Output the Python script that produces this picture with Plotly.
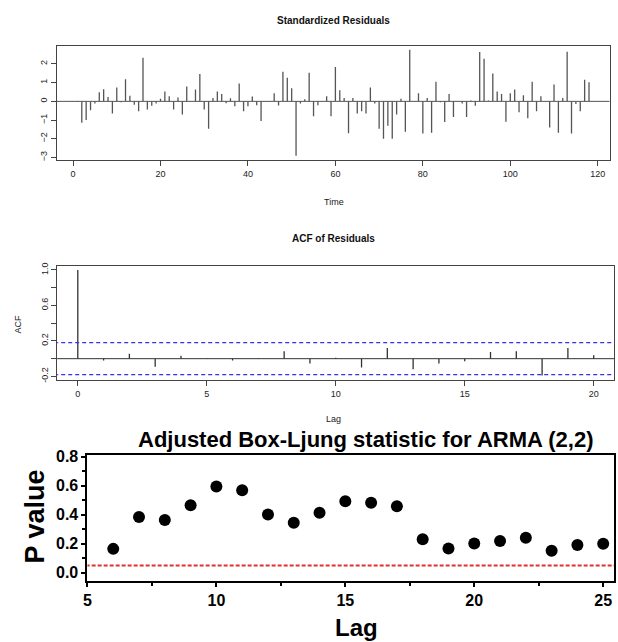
import plotly.graph_objects as go

W, H = 618, 642

# ---------------- data ----------------
resid_time = list(range(1, 119))
resid_vals = [
    -0.03, -1.14, -1.00, -0.47, -0.12, 0.49, 0.65, 0.23, -0.65, 0.74,
    -0.05, 1.18, 0.30, -0.18, -0.53, 2.33, -0.44, -0.23, -0.12, 0.14,
    0.53, 0.28, -0.44, 0.21, -0.70, 0.79, 0.02, 0.63, 1.46, -0.44,
    -1.46, 0.18, 0.53, 0.39, -0.10, 0.17, -0.26, 0.95, -0.53, -0.26,
    0.26, -0.21, -1.05, 0.02, -0.02, 0.44, -0.22, 1.58, 1.26, 0.70,
    -2.90, -0.11, 0.12, 1.53, -0.79, -0.21, 0.02, 0.28, -0.79, 1.84,
    0.60, 0.18, -1.70, 0.18, -0.65, -0.53, -0.65, 0.74, -0.12, -1.46,
    -2.00, -1.30, -2.00, -0.70, 0.14, -1.62, 2.75, 0.02, 0.44, -1.72,
    0.18, -1.67, 1.05, -0.05, -1.10, 0.39, -0.84, 0.02, -0.12, -0.84,
    0.05, -0.23, 2.63, 2.28, 0.05, 1.49, 0.53, 0.39, -1.09, 0.44,
    0.63, -0.58, 0.33, -0.90, 1.05, -0.53, 0.28, 0.02, -1.40, 0.90,
    -1.67, 0.18, 2.65, -1.72, -0.14, -0.53, 1.16, 1.02,
]

acf_lags = list(range(0, 21))
acf_vals = [1.0, -0.02, 0.055, -0.09, 0.033, 0.005, -0.02, 0.004, 0.085, -0.055,
            0.01, -0.10, 0.12, -0.12, -0.055, -0.03, 0.075, 0.085, -0.19, 0.12, 0.04]
acf_ci = 0.18

lb_lags = list(range(6, 26))
lb_pvals = [0.165, 0.384, 0.364, 0.466, 0.595, 0.568, 0.402, 0.345, 0.414, 0.493,
            0.482, 0.459, 0.232, 0.168, 0.202, 0.220, 0.241, 0.152, 0.191, 0.200]
lb_alpha = 0.05

resid_xticks = [0, 20, 40, 60, 80, 100, 120]
resid_yticks = [-3, -2, -1, 0, 1, 2]
acf_xticks = [0, 5, 10, 15, 20]
acf_yticks = [-0.2, 0.0, 0.2, 0.4, 0.6, 0.8, 1.0]
acf_yticktext = ["-0.2", "", "0.2", "", "0.6", "", "1.0"]
lb_xticks = [5, 10, 15, 20, 25]
lb_yticks = [0.0, 0.2, 0.4, 0.6, 0.8]

# ---------------- helpers ----------------
def px_x(x):
    return x / W

def px_y(y):
    return 1 - y / H

def spikes(xs, ys):
    sx, sy = [], []
    for a, b in zip(xs, ys):
        sx += [a, a, None]
        sy += [0, b, None]
    return sx, sy

fig = go.Figure()

gray = "#555555"
axcol = "#444444"
small_font = dict(family="Liberation Sans Narrow, Arial Narrow, Liberation Sans, Arial", size=9, color="#222")

# ---------- panel 1: standardized residuals ----------
sx, sy = spikes(resid_time, resid_vals)
fig.add_trace(go.Scatter(x=sx, y=sy, mode="lines", line=dict(color=gray, width=1.3),
                         xaxis="x", yaxis="y", showlegend=False, hoverinfo="skip"))
fig.add_trace(go.Scatter(x=[-10, 130], y=[0, 0], mode="lines", line=dict(color=gray, width=1),
                         xaxis="x", yaxis="y", showlegend=False, hoverinfo="skip"))

# ---------- panel 2: ACF ----------
ax_, ay_ = spikes(acf_lags, acf_vals)
fig.add_trace(go.Scatter(x=ax_, y=ay_, mode="lines", line=dict(color="#333", width=1.3),
                         xaxis="x2", yaxis="y2", showlegend=False, hoverinfo="skip"))
fig.add_trace(go.Scatter(x=[-2, 22], y=[0, 0], mode="lines", line=dict(color="#333", width=1),
                         xaxis="x2", yaxis="y2", showlegend=False, hoverinfo="skip"))
for c in (acf_ci, -acf_ci):
    fig.add_trace(go.Scatter(x=[-2, 22], y=[c, c], mode="lines",
                             line=dict(color="#3333ee", width=1.3, dash="4px,3px"),
                             xaxis="x2", yaxis="y2", showlegend=False, hoverinfo="skip"))

# ---------- panel 3: Box-Ljung ----------
fig.add_trace(go.Scatter(x=[4, 27], y=[lb_alpha, lb_alpha], mode="lines",
                         line=dict(color="#e03030", width=2, dash="4px,2px"),
                         xaxis="x3", yaxis="y3", showlegend=False, hoverinfo="skip"))
fig.add_trace(go.Scatter(x=lb_lags, y=lb_pvals, mode="markers",
                         marker=dict(color="black", size=12),
                         xaxis="x3", yaxis="y3", showlegend=False))

# ---------- axes ----------
common_small = dict(showgrid=False, zeroline=False, showline=True, mirror=True,
                    linecolor=axcol, linewidth=1, ticks="outside", ticklen=5,
                    tickcolor=axcol, tickfont=small_font)

big_tick_font = dict(family="Liberation Sans, Arial", size=16, color="black", weight="bold")

fig.update_layout(
    xaxis=dict(domain=[px_x(53.3), px_x(609.5)], range=[-3.68, 122.7], anchor="y",
               tickvals=resid_xticks, **common_small),
    yaxis=dict(domain=[px_y(156.1), px_y(40.2)], range=[-3.126, 2.976], anchor="x",
               tickvals=resid_yticks, tickangle=-90, **common_small),
    xaxis2=dict(domain=[px_x(53.5), px_x(614.3)], range=[-0.8, 20.8], anchor="y2",
                tickvals=acf_xticks, **common_small),
    yaxis2=dict(domain=[px_y(379.1), px_y(263.4)], range=[-0.238, 1.048], anchor="x2",
                tickvals=acf_yticks, ticktext=acf_yticktext, tickangle=-90, **common_small),
    xaxis3=dict(domain=[px_x(84), px_x(614)], range=[5, 25.42], anchor="y3",
                showgrid=False, zeroline=False, showline=True, mirror=True,
                linecolor="black", linewidth=2, ticks="outside", ticklen=4, tickwidth=2,
                tickcolor="black", tickvals=lb_xticks, tickfont=big_tick_font,
                minor=dict(ticks="outside", ticklen=3, tickwidth=1.5, tickcolor="black", dtick=2.5, tick0=5)),
    yaxis3=dict(domain=[px_y(583), px_y(455)], range=[-0.055, 0.814], anchor="x3",
                showgrid=False, zeroline=False, showline=True, mirror=True,
                linecolor="black", linewidth=2, ticks="outside", ticklen=4, tickwidth=2,
                tickcolor="black", tickvals=lb_yticks, tickformat=".1f", tickfont=big_tick_font,
                minor=dict(ticks="outside", ticklen=3, tickwidth=1.5, tickcolor="black", dtick=0.1, tick0=0)),
    width=W, height=H, margin=dict(l=0, r=0, t=0, b=0),
    paper_bgcolor="white", plot_bgcolor="white",
)

title_font = dict(family="Liberation Sans, Arial", size=10, color="#111", weight="bold")
lab_font = dict(family="Liberation Sans Narrow, Arial Narrow, Liberation Sans, Arial", size=9, color="#222")
anns = [
    dict(text="Standardized Residuals", x=px_x(332), y=px_y(15), font=title_font),
    dict(text="Time", x=px_x(332), y=px_y(199), font=lab_font),
    dict(text="ACF of Residuals", x=px_x(332), y=px_y(236), font=title_font),
    dict(text="ACF", x=px_x(15), y=px_y(322), font=lab_font, textangle=-90),
    dict(text="Lag", x=px_x(332), y=px_y(419), font=lab_font),
    dict(text="Adjusted Box-Ljung statistic for ARMA (2,2)", x=px_x(364), y=px_y(440),
         font=dict(family="Liberation Sans, Arial", size=22, color="black", weight="bold")),
    dict(text="P value", x=px_x(31), y=px_y(518), textangle=-90,
         font=dict(family="Liberation Sans, Arial", size=27, color="black", weight="bold")),
    dict(text="Lag", x=px_x(355), y=px_y(630),
         font=dict(family="Liberation Sans, Arial", size=24, color="black", weight="bold")),
]
for a in anns:
    a.update(xref="paper", yref="paper", showarrow=False, xanchor="center", yanchor="middle")
fig.update_layout(annotations=anns)

fig.write_html("out.html")
